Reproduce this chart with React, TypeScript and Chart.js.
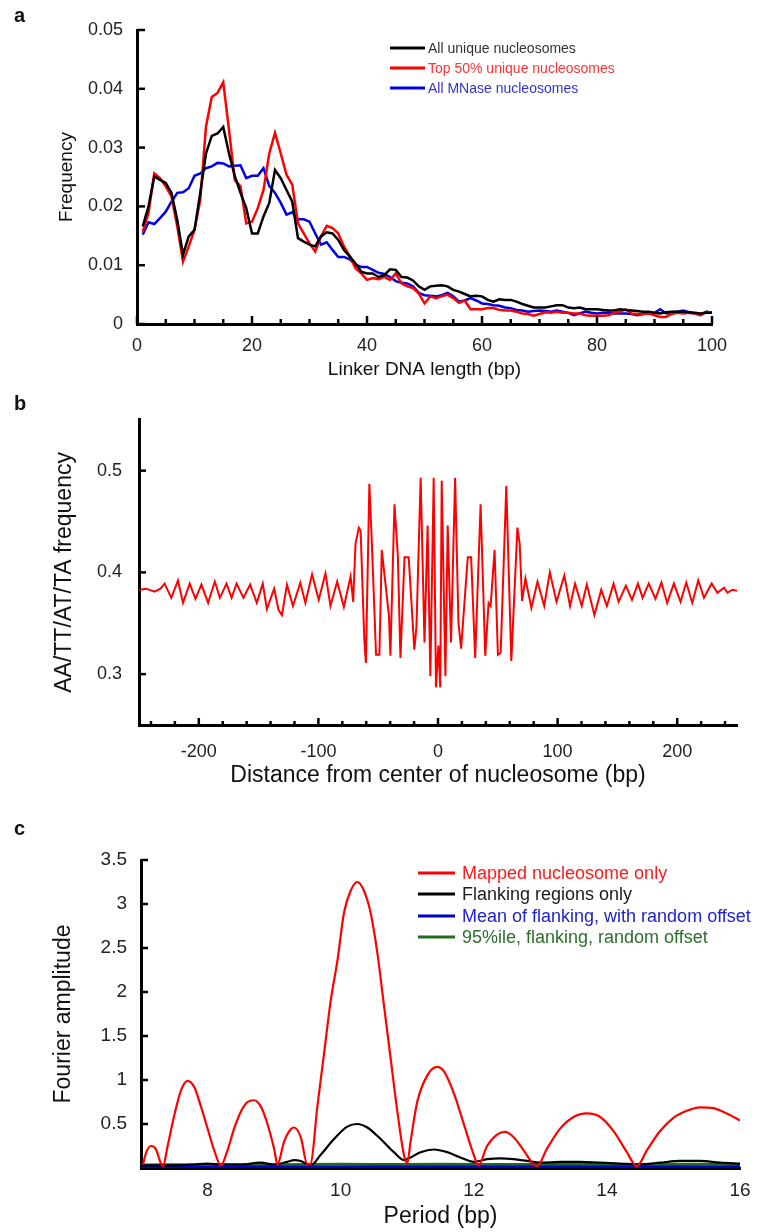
import React, { useEffect, useRef } from "react";
import { Chart, registerables } from "chart.js";

Chart.register(...registerables);

// ---------------- Panel a: linker DNA length distribution ----------------
const linkerLength = Array.from({ length: 100 }, (_, i) => i + 1);
const allUnique = [
  0.0166, 0.02, 0.0251, 0.0245, 0.024, 0.0223, 0.0177, 0.0118, 0.0149, 0.016,
  0.0223, 0.029, 0.032, 0.0324, 0.0335, 0.029, 0.0252, 0.0223, 0.0197, 0.0154,
  0.0154, 0.0183, 0.0206, 0.0262, 0.0248, 0.0228, 0.0208, 0.0146, 0.014, 0.0135,
  0.0132, 0.0149, 0.0156, 0.0154, 0.0143, 0.0126, 0.0115, 0.0103, 0.0089, 0.0086,
  0.0086, 0.008, 0.0083, 0.0093, 0.0092, 0.008, 0.0079, 0.0074, 0.0064, 0.0058,
  0.0064, 0.0065, 0.0066, 0.0064, 0.0058, 0.0055, 0.0051, 0.0047, 0.0048, 0.0047,
  0.0041, 0.0038, 0.0042, 0.0041, 0.0041, 0.0038, 0.0034, 0.0031, 0.0028, 0.0028,
  0.0028, 0.003, 0.0032, 0.0032, 0.0028, 0.0027, 0.0028, 0.0025, 0.0025, 0.0025,
  0.0024, 0.0023, 0.0023, 0.0025, 0.0024, 0.0023, 0.0022, 0.0021, 0.0021, 0.0019,
  0.0018, 0.002, 0.0021, 0.0021, 0.0021, 0.002, 0.0019, 0.0018, 0.0019, 0.0019,
];
const top50Unique = [
  0.0157, 0.0189, 0.0256, 0.0248, 0.0234, 0.0217, 0.0166, 0.0106, 0.0132, 0.016,
  0.0211, 0.0336, 0.0386, 0.0393, 0.0411, 0.033, 0.0245, 0.0234, 0.0171, 0.0174,
  0.0197, 0.0228, 0.029, 0.0325, 0.029, 0.0254, 0.0237, 0.0171, 0.0154, 0.0137,
  0.0123, 0.0149, 0.0167, 0.0163, 0.0154, 0.0132, 0.0115, 0.0095, 0.0086, 0.0075,
  0.0078, 0.0076, 0.008, 0.0075, 0.0086, 0.0069, 0.0064, 0.0061, 0.0052, 0.0035,
  0.0047, 0.0044, 0.0047, 0.005, 0.0044, 0.0036, 0.004, 0.0025, 0.0025, 0.0025,
  0.0027, 0.0027, 0.0024, 0.0023, 0.0023, 0.0021, 0.0018, 0.0017, 0.0014, 0.0017,
  0.002, 0.0019, 0.0021, 0.0019, 0.0019, 0.0018, 0.0018, 0.0015, 0.0014, 0.0014,
  0.0014, 0.0015, 0.0019, 0.0021, 0.0025, 0.0018, 0.0017, 0.0017, 0.0018, 0.0015,
  0.0012, 0.0012, 0.0017, 0.0019, 0.0018, 0.0019, 0.0018, 0.0015, 0.002, 0.002,
];
const allMNase = [
  0.0152, 0.0173, 0.017, 0.018, 0.0191, 0.0208, 0.0223, 0.0224, 0.0231, 0.0252,
  0.0256, 0.0265, 0.0268, 0.0274, 0.0273, 0.0268, 0.0269, 0.027, 0.0248, 0.0252,
  0.0252, 0.0265, 0.0235, 0.0223, 0.0206, 0.0186, 0.019, 0.0178, 0.0178, 0.0174,
  0.0154, 0.0135, 0.0139, 0.0126, 0.0114, 0.0114, 0.011, 0.0101, 0.0097, 0.0097,
  0.0092, 0.0087, 0.0085, 0.008, 0.0073, 0.007, 0.0069, 0.0064, 0.0053, 0.0049,
  0.0048, 0.0047, 0.0049, 0.0053, 0.0047, 0.0038, 0.004, 0.0044, 0.004, 0.0035,
  0.0034, 0.0032, 0.0031, 0.0028, 0.0027, 0.0024, 0.0023, 0.0021, 0.0022, 0.0023,
  0.0022, 0.0021, 0.0023, 0.0021, 0.0019, 0.0015, 0.0018, 0.0021, 0.0019, 0.0018,
  0.0019, 0.0019, 0.0018, 0.0018, 0.0018, 0.0017, 0.0015, 0.0017, 0.0018, 0.0019,
  0.0025, 0.0018, 0.002, 0.0021, 0.0023, 0.002, 0.0018, 0.0015, 0.0021, 0.0019,
];
const xTicksA = [0, 5, 10, 15, 20, 25, 30, 35, 40, 45, 50, 55, 60, 65, 70, 75, 80, 85, 90, 95, 100];
const xMajorA = [0, 20, 40, 60, 80, 100];
const yTicksA = [0, 0.01, 0.02, 0.03, 0.04, 0.05];
const yLabelsA = ["0", "0.01", "0.02", "0.03", "0.04", "0.05"];
const legendA = ["All unique nucleosomes", "Top 50% unique nucleosomes", "All MNase nucleosomes"];

// ---------------- Panel b: AA/TT/AT/TA frequency ----------------
const distanceB = [
  -249.6, -244, -237, -232, -228.6, -223, -217.4, -213.2, -207.6, -202.8, -197.8, -192.2, -186.6, -182.4,
  -176.8, -172.6, -168.4, -162.7, -157.1, -151.5, -146.5, -143.1, -137, -133.3, -130.5, -126.3, -121.3,
  -115.1, -110.9, -105.3, -99.7, -94.1, -89.9, -84.3, -78.7, -73.1, -70.9, -69, -66.2, -64.7, -61.6, -60.3,
  -57.4, -55.5, -51.8, -49, -47, -43.4, -41, -39.8, -36.4, -33.6, -31.4, -28, -24.5, -19.8, -18, -14.5,
  -11.3, -8.7, -6.4, -3.6, -1.7, 0.3, 1.9, 3.1, 6.2, 8.1, 10.9, 14.3, 17.1, 19.3, 24.9, 27.7, 31.1, 35.6,
  39.5, 42.3, 44, 47.3, 50.1, 52.4, 57.1, 61.3, 66.4, 68.3, 70.3, 73.1, 78.1, 83.2, 88.8, 93.5, 99.1, 105.6,
  110.4, 114.6, 120.2, 124.4, 130.8, 136.5, 141.2, 146.8, 151, 157.1, 162.2, 167.2, 171.1, 176.2, 181.8,
  186.8, 191.6, 197.2, 202.8, 207.6, 212.6, 217.6, 222.4, 228.8, 233.6, 239.2, 242, 246.2, 250,
];
const aattFreq = [
  0.383, 0.384, 0.381, 0.384, 0.389, 0.375, 0.392, 0.37, 0.389, 0.374, 0.388, 0.37, 0.391, 0.375,
  0.389, 0.375, 0.389, 0.375, 0.388, 0.37, 0.389, 0.364, 0.384, 0.363, 0.358, 0.388, 0.367,
  0.39, 0.37, 0.398, 0.373, 0.399, 0.367, 0.391, 0.366, 0.396, 0.371, 0.428, 0.444, 0.441, 0.334, 0.311,
  0.487, 0.435, 0.319, 0.319, 0.422, 0.383, 0.357, 0.318, 0.467, 0.417, 0.316, 0.415, 0.415, 0.324, 0.347, 0.493,
  0.331, 0.446, 0.298, 0.493, 0.287, 0.328, 0.287, 0.49, 0.298, 0.446, 0.331, 0.493, 0.351, 0.325, 0.415, 0.415, 0.316, 0.467,
  0.318, 0.37, 0.367, 0.422, 0.319, 0.321, 0.485, 0.313, 0.444, 0.428, 0.372, 0.394, 0.365, 0.391, 0.367, 0.4, 0.371, 0.397,
  0.367, 0.389, 0.367, 0.388, 0.358, 0.383, 0.367, 0.389, 0.371, 0.387, 0.373, 0.389, 0.375, 0.389, 0.374,
  0.39, 0.37, 0.389, 0.371, 0.39, 0.37, 0.392, 0.375, 0.389, 0.38, 0.385, 0.38, 0.383, 0.382,
];
const xTicksB = [-240, -220, -200, -180, -160, -140, -120, -100, -80, -60, -40, -20, 0, 20, 40, 60, 80, 100, 120, 140, 160, 180, 200, 220, 240];
const xMajorB = [-200, -100, 0, 100, 200];
const yTicksB = [0.3, 0.4, 0.5];
const yLabelsB = ["0.3", "0.4", "0.5"];

// ---------------- Panel c: Fourier amplitude ----------------
const periodMapped = [
  7.03, 7.08, 7.15, 7.22, 7.3, 7.33, 7.4, 7.5, 7.6, 7.7, 7.8, 7.9, 8.0, 8.1, 8.2, 8.3, 8.4, 8.5, 8.6, 8.7, 8.8,
  8.9, 9.0, 9.05, 9.15, 9.25, 9.3, 9.4, 9.5, 9.55, 9.65, 9.75, 9.85, 9.95, 10.05, 10.15, 10.25, 10.35, 10.45,
  10.55, 10.65, 10.75, 10.85, 10.95, 11.0, 11.05, 11.15, 11.3, 11.45, 11.55, 11.7, 11.85, 12.0, 12.07, 12.2,
  12.35, 12.47, 12.6, 12.75, 12.9, 12.95, 13.1, 13.3, 13.5, 13.7, 13.9, 14.1, 14.3, 14.45, 14.6, 14.8, 15.0,
  15.2, 15.4, 15.6, 15.8, 16.0,
];
const ampMapped = [
  0.04, 0.18, 0.25, 0.22, 0.05, 0.02, 0.25, 0.6, 0.88, 0.99, 0.92, 0.7, 0.45, 0.2, 0.03, 0.2, 0.45, 0.64, 0.75, 0.77, 0.7,
  0.5, 0.22, 0.04, 0.3, 0.44, 0.46, 0.35, 0.04, 0.05, 0.7, 1.3, 1.9, 2.35, 2.9, 3.15, 3.25, 3.15, 2.9,
  2.45, 1.85, 1.25, 0.65, 0.15, 0.05, 0.3, 0.75, 1.05, 1.15, 1.1, 0.85, 0.5, 0.15, 0.03, 0.25,
  0.38, 0.41, 0.35, 0.2, 0.04, 0.02, 0.22, 0.45, 0.58, 0.62, 0.58, 0.42, 0.18, 0.02, 0.2, 0.42, 0.57,
  0.65, 0.69, 0.68, 0.62, 0.54,
];
const periodFlank = [
  7.0, 7.5, 7.8, 8.0, 8.2, 8.5, 8.8, 9.0, 9.2, 9.3, 9.4, 9.55, 9.7, 9.9, 10.1, 10.25, 10.4, 10.6, 10.8, 10.95,
  11.05, 11.2, 11.4, 11.6, 11.8, 12.0, 12.2, 12.4, 12.6, 12.8, 13.0, 13.3, 13.6, 13.9, 14.2, 14.5, 14.8, 15.1,
  15.4, 15.7, 16.0,
];
const ampFlank = [
  0.03, 0.03, 0.04, 0.05, 0.04, 0.04, 0.06, 0.04, 0.07, 0.09, 0.08, 0.03, 0.15, 0.33, 0.47, 0.5, 0.46, 0.33, 0.18, 0.09,
  0.12, 0.18, 0.21, 0.18, 0.12, 0.07, 0.1, 0.11, 0.1, 0.08, 0.06, 0.07, 0.07, 0.06, 0.05, 0.04, 0.06, 0.08,
  0.08, 0.06, 0.05,
];
const periodRandom = [7, 7.5, 8, 8.5, 9, 9.5, 10, 10.5, 11, 11.5, 12, 12.5, 13, 13.5, 14, 14.5, 15, 15.5, 16];
const ampRandomMean = [0.012, 0.013, 0.012, 0.014, 0.013, 0.012, 0.015, 0.014, 0.013, 0.016, 0.014, 0.015, 0.013, 0.017, 0.015, 0.014, 0.016, 0.015, 0.016];
const ampRandom95 = [0.035, 0.036, 0.038, 0.037, 0.036, 0.04, 0.042, 0.041, 0.039, 0.043, 0.04, 0.041, 0.039, 0.042, 0.041, 0.04, 0.043, 0.042, 0.044];
const xTicksC = [8, 10, 12, 14, 16];
const yTicksC = [0.5, 1, 1.5, 2, 2.5, 3, 3.5];
const yLabelsC = ["0.5", "1", "1.5", "2", "2.5", "3", "3.5"];
const legendC = [
  "Mapped nucleosome only",
  "Flanking regions only",
  "Mean of flanking, with random offset",
  "95%ile, flanking, random offset",
];

const FONT = "'Liberation Sans', Arial, Helvetica, sans-serif";

const pts = (xs: number[], ys: number[]) => xs.map((x, i) => ({ x, y: ys[i] }));

// inward tick marks drawn from the scales
const inTicksPlugin = {
  id: "inTicks",
  afterDraw(chart: any, _args: any, opts: any) {
    const ctx = chart.ctx;
    const area = chart.chartArea;
    ctx.save();
    ctx.strokeStyle = "#000";
    ctx.lineWidth = opts.width || 2.5;
    ["x", "y"].forEach((id) => {
      const cfg = opts[id];
      if (!cfg) return;
      const scale = chart.scales[id];
      scale.ticks.forEach((t: any) => {
        const major = cfg.majors ? cfg.majors.some((v: number) => Math.abs(v - t.value) < 1e-9) : true;
        const len = major ? cfg.major : cfg.minor;
        if (!len) return;
        const p = scale.getPixelForValue(t.value);
        ctx.beginPath();
        if (id === "x") {
          ctx.moveTo(p, area.bottom);
          ctx.lineTo(p, area.bottom - len);
        } else {
          ctx.moveTo(area.left, p);
          ctx.lineTo(area.left + len, p);
        }
        ctx.stroke();
      });
    });
    ctx.restore();
  },
};

// legend made of short lines + coloured text
const lineLegendPlugin = {
  id: "lineLegend",
  afterDraw(chart: any, _args: any, opts: any) {
    if (!opts || !opts.labels) return;
    const ctx = chart.ctx;
    ctx.save();
    ctx.font = opts.font;
    ctx.textBaseline = "middle";
    ctx.textAlign = "left";
    opts.labels.forEach((label: string, i: number) => {
      const ds = chart.data.datasets[i];
      const y = opts.ys[i];
      ctx.strokeStyle = ds.borderColor;
      ctx.lineWidth = opts.lineWidth;
      ctx.beginPath();
      ctx.moveTo(opts.x0, y);
      ctx.lineTo(opts.x1, y);
      ctx.stroke();
      ctx.fillStyle = opts.textColors[i];
      ctx.fillText(label, opts.xt, y + 1);
    });
    ctx.restore();
  },
};

Chart.register(inTicksPlugin as any, lineLegendPlugin as any);

function ChartCanvas({ config, left, top, width, height }: any) {
  const ref = useRef<HTMLCanvasElement | null>(null);
  useEffect(() => {
    if (!ref.current) return;
    const chart = new Chart(ref.current, config);
    return () => chart.destroy();
  }, []);
  return (
    <div style={{ position: "absolute", left, top, width, height }}>
      <canvas ref={ref} width={width} height={height} style={{ width, height, display: "block" }} />
    </div>
  );
}

const axisBase = (extra: any) => ({
  type: "linear",
  grid: { display: false, drawTicks: false },
  border: { display: true, color: "#000", width: 3 },
  ...extra,
});

const configA: any = {
  type: "line",
  data: {
    datasets: [
      { label: legendA[0], data: pts(linkerLength, allUnique), borderColor: "#000000", borderWidth: 2.5 },
      { label: legendA[1], data: pts(linkerLength, top50Unique), borderColor: "#ff0000", borderWidth: 2.5 },
      { label: legendA[2], data: pts(linkerLength, allMNase), borderColor: "#0000e6", borderWidth: 2.5 },
    ],
  },
  options: {
    responsive: false,
    animation: false,
    parsing: true,
    elements: { point: { radius: 0 }, line: { tension: 0 } },
    layout: { padding: { left: 0, top: 30, right: 50, bottom: 11 } },
    plugins: {
      legend: { display: false },
      tooltip: { enabled: false },
      inTicks: { width: 2.5, x: { majors: xMajorA, major: 8, minor: 5 }, y: { major: 8 } },
      lineLegend: {
        labels: legendA,
        x0: 390, x1: 425, xt: 428, ys: [48, 68, 88],
        font: `14px ${FONT}`, lineWidth: 3,
        textColors: ["#333333", "#ff3333", "#3333cc"],
      },
    },
    scales: {
      x: axisBase({
        min: 0, max: 100,
        afterBuildTicks: (s: any) => { s.ticks = xTicksA.map((v) => ({ value: v })); },
        afterFit: (s: any) => { s.height = 57; },
        ticks: {
          autoSkip: false, maxRotation: 0, padding: 11, color: "#222", font: { family: FONT, size: 18 },
          callback: (v: number) => (xMajorA.includes(v) ? String(v) : ""),
        },
        title: { display: true, text: "Linker DNA length (bp)", color: "#111", font: { family: FONT, size: 19 }, padding: { top: 0, bottom: 0 } },
      }),
      y: axisBase({
        min: 0, max: 0.05,
        afterBuildTicks: (s: any) => { s.ticks = yTicksA.map((v) => ({ value: v })); },
        afterFit: (s: any) => { s.width = 137; },
        ticks: {
          autoSkip: false, padding: 14, color: "#222", font: { family: FONT, size: 18 },
          callback: (_v: number, i: number) => yLabelsA[i],
        },
        title: { display: true, text: "Frequency", color: "#111", font: { family: FONT, size: 19 }, padding: { top: 55, bottom: 0 } },
      }),
    },
  },
};

const configB: any = {
  type: "line",
  data: {
    datasets: [
      { label: "AA/TT/AT/TA", data: pts(distanceB, aattFreq), borderColor: "#ff0000", borderWidth: 2 },
    ],
  },
  options: {
    responsive: false,
    animation: false,
    elements: { point: { radius: 0 }, line: { tension: 0 } },
    layout: { padding: { left: 0, top: 26, right: 25, bottom: 3 } },
    plugins: {
      legend: { display: false },
      tooltip: { enabled: false },
      inTicks: { width: 2.5, x: { majors: xMajorB, major: 7, minor: 4 }, y: { major: 7 } },
    },
    scales: {
      x: axisBase({
        min: -250, max: 250,
        afterBuildTicks: (s: any) => { s.ticks = xTicksB.map((v) => ({ value: v })); },
        afterFit: (s: any) => { s.height = 64; },
        ticks: {
          autoSkip: false, maxRotation: 0, padding: 16, color: "#222", font: { family: FONT, size: 18 },
          callback: (v: number) => (xMajorB.includes(v) ? String(v) : ""),
        },
        title: { display: true, text: "Distance from center of nucleosome (bp)", color: "#111", font: { family: FONT, size: 23 }, padding: { top: 0, bottom: 0 } },
      }),
      y: axisBase({
        min: 0.25, max: 0.55,
        afterBuildTicks: (s: any) => { s.ticks = yTicksB.map((v) => ({ value: v })); },
        afterFit: (s: any) => { s.width = 139; },
        ticks: {
          autoSkip: false, padding: 17, color: "#222", font: { family: FONT, size: 18 },
          callback: (_v: number, i: number) => yLabelsB[i],
        },
        title: { display: true, text: "AA/TT/AT/TA frequency", color: "#111", font: { family: FONT, size: 23 }, padding: { top: 51, bottom: 0 } },
      }),
    },
  },
};

const configC: any = {
  type: "line",
  data: {
    datasets: [
      { label: legendC[0], data: pts(periodMapped, ampMapped), borderColor: "#ff0000", borderWidth: 2.2, cubicInterpolationMode: "monotone" },
      { label: legendC[1], data: pts(periodFlank, ampFlank), borderColor: "#000000", borderWidth: 2.2, cubicInterpolationMode: "monotone" },
      { label: legendC[2], data: pts(periodRandom, ampRandomMean), borderColor: "#0000cc", borderWidth: 2.5 },
      { label: legendC[3], data: pts(periodRandom, ampRandom95), borderColor: "#1f6b1f", borderWidth: 3 },
    ],
  },
  options: {
    responsive: false,
    animation: false,
    elements: { point: { radius: 0 }, line: { tension: 0 } },
    layout: { padding: { left: 0, top: 68, right: 22, bottom: 2 } },
    plugins: {
      legend: { display: false },
      tooltip: { enabled: false },
      inTicks: { width: 2.5, y: { major: 7 } },
      lineLegend: {
        labels: legendC,
        x0: 418, x1: 455, xt: 462, ys: [81, 102, 124, 145],
        font: `18px ${FONT}`, lineWidth: 3,
        textColors: ["#ff1a1a", "#1a1a1a", "#2222cc", "#2d6e2d"],
      },
    },
    scales: {
      x: axisBase({
        min: 7, max: 16,
        afterBuildTicks: (s: any) => { s.ticks = xTicksC.map((v) => ({ value: v })); },
        afterFit: (s: any) => { s.height = 62; },
        ticks: {
          autoSkip: false, maxRotation: 0, padding: 11, color: "#222", font: { family: FONT, size: 19 },
          callback: (v: number) => String(v),
        },
        title: { display: true, text: "Period (bp)", color: "#111", font: { family: FONT, size: 23 }, padding: { top: 0, bottom: 0 } },
      }),
      y: axisBase({
        min: 0, max: 3.5,
        afterBuildTicks: (s: any) => { s.ticks = yTicksC.map((v) => ({ value: v })); },
        afterFit: (s: any) => { s.width = 141; },
        ticks: {
          autoSkip: false, padding: 14, color: "#222", font: { family: FONT, size: 19 },
          callback: (_v: number, i: number) => yLabelsC[i],
        },
        title: { display: true, text: "Fourier amplitude", color: "#111", font: { family: FONT, size: 23 }, padding: { top: 50, bottom: 0 } },
      }),
    },
  },
};

const letterStyle = (top: number): React.CSSProperties => ({
  position: "absolute",
  left: 14,
  top,
  fontFamily: FONT,
  fontWeight: "bold",
  fontSize: 20,
  lineHeight: "20px",
  color: "#111",
});

export default function App() {
  return (
    <div style={{ position: "absolute", left: 0, top: 0, width: 762, height: 1232, background: "#fff", overflow: "hidden" }}>
      <ChartCanvas config={configA} left={0} top={0} width={762} height={392} />
      <ChartCanvas config={configB} left={0} top={392} width={762} height={400} />
      <ChartCanvas config={configC} left={0} top={792} width={762} height={440} />
      <div style={letterStyle(5)}>a</div>
      <div style={letterStyle(393)}>b</div>
      <div style={letterStyle(818)}>c</div>
    </div>
  );
}
